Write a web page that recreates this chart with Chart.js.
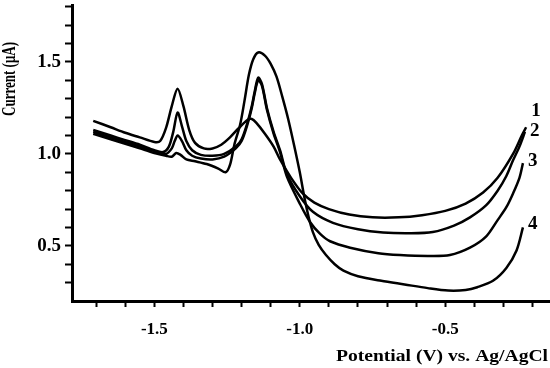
<!DOCTYPE html>
<html>
<head>
<meta charset="utf-8">
<script src="https://cdn.jsdelivr.net/npm/chart.js@4/dist/chart.umd.min.js"></script>
<style>
  html, body { margin: 0; padding: 0; background: #fff; }
  #wrap { width: 550px; height: 368px; position: relative; }
</style>
</head>
<body>
<div id="wrap"><canvas id="voltChart"></canvas></div>
<script>
// Potential (V vs. Ag/AgCl) and current (uA)
const curve1X = [-1.71, -1.65, -1.60, -1.55, -1.50, -1.48, -1.46, -1.44, -1.42, -1.40, -1.38, -1.36, -1.33, -1.30, -1.27, -1.24, -1.21, -1.18, -1.165, -1.15, -1.12, -1.09, -1.068, -1.03, -0.99, -0.95, -0.90, -0.83, -0.75, -0.66, -0.58, -0.50, -0.43, -0.37, -0.32, -0.267, -0.237, -0.222];
const curve1Y = [1.18, 1.145, 1.115, 1.09, 1.065, 1.07, 1.14, 1.26, 1.355, 1.26, 1.13, 1.06, 1.03, 1.03, 1.05, 1.09, 1.14, 1.185, 1.19, 1.17, 1.11, 1.04, 0.97, 0.87, 0.785, 0.735, 0.70, 0.67, 0.655, 0.655, 0.667, 0.69, 0.73, 0.79, 0.87, 1.0, 1.10, 1.145];

const curve2X = [-1.71, -1.65, -1.60, -1.55, -1.50, -1.47, -1.45, -1.435, -1.42, -1.405, -1.39, -1.37, -1.34, -1.30, -1.26, -1.22, -1.20, -1.18, -1.165, -1.155, -1.143, -1.13, -1.113, -1.09, -1.068, -1.044, -1.0, -0.955, -0.886, -0.80, -0.714, -0.62, -0.543, -0.47, -0.415, -0.36, -0.32, -0.29, -0.267, -0.245, -0.226];
const curve2Y = [1.13, 1.10, 1.075, 1.05, 1.02, 1.01, 1.04, 1.12, 1.225, 1.15, 1.07, 1.02, 0.995, 0.99, 1.0, 1.04, 1.08, 1.17, 1.26, 1.34, 1.415, 1.38, 1.25, 1.12, 1.02, 0.89, 0.77, 0.685, 0.625, 0.59, 0.572, 0.568, 0.575, 0.61, 0.655, 0.72, 0.80, 0.88, 0.965, 1.04, 1.12];

const curve3X = [-1.71, -1.65, -1.60, -1.55, -1.50, -1.46, -1.44, -1.43, -1.42, -1.405, -1.39, -1.37, -1.34, -1.30, -1.26, -1.22, -1.20, -1.18, -1.165, -1.155, -1.143, -1.13, -1.113, -1.09, -1.068, -1.044, -1.0, -0.965, -0.93, -0.896, -0.827, -0.73, -0.656, -0.56, -0.484, -0.415, -0.36, -0.32, -0.29, -0.267, -0.245, -0.233];
const curve3Y = [1.12, 1.09, 1.065, 1.04, 1.015, 1.0, 1.03, 1.07, 1.10, 1.07, 1.02, 0.99, 0.975, 0.97, 0.985, 1.03, 1.07, 1.16, 1.25, 1.33, 1.40, 1.37, 1.24, 1.11, 1.01, 0.875, 0.73, 0.63, 0.565, 0.525, 0.49, 0.46, 0.45, 0.445, 0.45, 0.49, 0.55, 0.64, 0.71, 0.785, 0.87, 0.95];

const curve4X = [-1.71, -1.65, -1.60, -1.55, -1.50, -1.46, -1.44, -1.425, -1.41, -1.39, -1.36, -1.32, -1.28, -1.255, -1.24, -1.225, -1.205, -1.19, -1.175, -1.16, -1.143, -1.12, -1.10, -1.08, -1.06, -1.04, -1.02, -1.0, -0.985, -0.97, -0.955, -0.935, -0.91, -0.88, -0.85, -0.80, -0.72, -0.64, -0.56, -0.49, -0.43, -0.39, -0.336, -0.29, -0.255, -0.233];
const curve4Y = [1.11, 1.08, 1.055, 1.03, 1.005, 0.99, 0.985, 1.005, 0.995, 0.97, 0.96, 0.945, 0.92, 0.90, 0.94, 1.05, 1.16, 1.29, 1.43, 1.515, 1.552, 1.535, 1.49, 1.42, 1.31, 1.19, 1.05, 0.90, 0.77, 0.66, 0.575, 0.505, 0.45, 0.40, 0.365, 0.335, 0.31, 0.29, 0.27, 0.257, 0.26, 0.275, 0.31, 0.38, 0.475, 0.60];

const curveNames = ["1", "2", "3", "4"];
const xTickLabels = [-1.5, -1.0, -0.5];
const yTickLabels = [0.5, 1.0, 1.5];

const serif = "'Liberation Serif', 'Times New Roman', serif";

function toPoints(xs, ys) {
  return xs.map((x, i) => ({ x: x, y: ys[i] }));
}

function isLabelled(list, v) {
  return list.some(t => Math.abs(t - v) < 1e-6);
}

// axis titles and curve numbers, drawn on top
const annotations = {
  id: "annotations",
  afterDraw(chart) {
    const ctx = chart.ctx;
    ctx.save();
    ctx.fillStyle = "#000";
    ctx.textBaseline = "middle";

    // x title, stretched a little like the original
    ctx.font = "bold 16px " + serif;
    ctx.textAlign = "left";
    const xt = "Potential (V) vs. Ag/AgCl";
    const xw = ctx.measureText(xt).width;
    ctx.save();
    ctx.translate(548 - 212, 357);
    ctx.scale(212 / xw, 1);
    ctx.fillText(xt, 0, 0);
    ctx.restore();

    // y title, squeezed along its length
    ctx.font = "bold 17px " + serif;
    const yt = "Current (\u03bcA)";
    const yw = ctx.measureText(yt).width;
    ctx.save();
    ctx.translate(10, 79);
    ctx.rotate(-Math.PI / 2);
    ctx.scale(74 / yw, 1.15);
    ctx.textAlign = "center";
    ctx.fillText(yt, 0, 0);
    ctx.restore();

    // curve numbers next to the right-hand ends
    const nudge = [-16, -1, -2, -3];
    ctx.font = "bold 19px " + serif;
    ctx.textAlign = "left";
    chart.data.datasets.forEach((ds, i) => {
      const pts = chart.getDatasetMeta(i).data;
      const last = pts[pts.length - 1];
      ctx.fillText(curveNames[i], last.x + 5, last.y + nudge[i]);
    });
    ctx.restore();
  }
};

const lineStyle = {
  borderColor: "#000",
  borderWidth: 2.5,
  pointRadius: 0,
  fill: false,
  tension: 0.3
};

new Chart(document.getElementById("voltChart"), {
  type: "line",
  data: {
    datasets: [
      Object.assign({ label: curveNames[0], data: toPoints(curve1X, curve1Y) }, lineStyle),
      Object.assign({ label: curveNames[1], data: toPoints(curve2X, curve2Y) }, lineStyle),
      Object.assign({ label: curveNames[2], data: toPoints(curve3X, curve3Y) }, lineStyle),
      Object.assign({ label: curveNames[3], data: toPoints(curve4X, curve4Y) }, lineStyle)
    ]
  },
  options: {
    responsive: true,
    maintainAspectRatio: false,
    animation: false,
    layout: { padding: { top: 5, right: 0, bottom: 0, left: 0 } },
    plugins: {
      legend: { display: false },
      tooltip: { enabled: false }
    },
    scales: {
      x: {
        type: "linear",
        min: -1.783,
        max: -0.14,
        border: { color: "#000", width: 3 },
        grid: { drawOnChartArea: false, tickLength: 6, tickWidth: 2, tickColor: "#000" },
        ticks: {
          stepSize: 0.1,
          includeBounds: false,
          autoSkip: false,
          maxRotation: 0,
          padding: 12,
          color: "#000",
          font: { family: serif, weight: "bold", size: 17 },
          callback: v => isLabelled(xTickLabels, v) ? v.toFixed(1) : ""
        },
        afterFit: s => { s.height = 67; s.paddingLeft = 0; s.paddingRight = 0; }
      },
      y: {
        min: 0.2,
        max: 1.81,
        border: { color: "#000", width: 3 },
        grid: { drawOnChartArea: false, tickLength: 7, tickWidth: 2, tickColor: "#000" },
        ticks: {
          stepSize: 0.1,
          includeBounds: false,
          autoSkip: false,
          padding: 4,
          color: "#000",
          font: { family: serif, weight: "bold", size: 19 },
          callback: v => isLabelled(yTickLabels, v) ? v.toFixed(1) : ""
        },
        afterBuildTicks: s => { s.ticks = s.ticks.filter(t => t.value > 0.25); },
        afterFit: s => { s.width = 72; s.paddingTop = 0; s.paddingBottom = 0; }
      }
    }
  },
  plugins: [annotations]
});
</script>
</body>
</html>
